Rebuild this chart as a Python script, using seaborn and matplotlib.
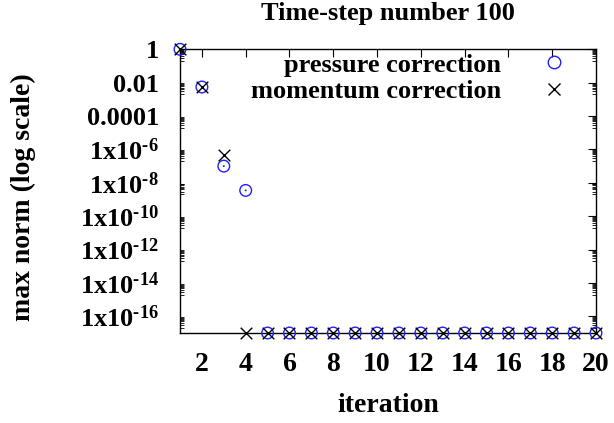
import numpy as np
import pandas as pd
import matplotlib
matplotlib.use("Agg")
import matplotlib.pyplot as plt
import seaborn as sns
from matplotlib.ticker import FixedLocator, FuncFormatter, NullFormatter
from matplotlib.lines import Line2D

# ---- data ----
iterations = list(range(1, 21))
pressure = [1.0, 5.5e-3, 1.0e-7, 3.5e-9] + [1e-17] * 16
momentum = [1.0, 5.5e-3, 4.5e-7, 1e-17] + [1e-17] * 16
title = "Time-step number 100"
xlabel = "iteration"
ylabel = "max norm (log scale)"
labels = ["pressure correction", "momentum correction"]
xticks = list(range(2, 21, 2))
ytick_exps = list(range(0, -17, -2))

sns.set_theme(style="white")
plt.rcParams['font.family'] = ['Liberation Serif', 'DejaVu Serif']
plt.rcParams['font.weight'] = 'bold'
plt.rcParams['text.color'] = 'black'
plt.rcParams['axes.labelcolor'] = 'black'
plt.rcParams['xtick.color'] = 'black'
plt.rcParams['ytick.color'] = 'black'
plt.rcParams['mathtext.fontset'] = 'custom'
plt.rcParams['mathtext.rm'] = 'Liberation Serif:bold'
plt.rcParams['mathtext.bf'] = 'Liberation Serif:bold'
plt.rcParams['mathtext.it'] = 'Liberation Serif:bold'
plt.rcParams['mathtext.default'] = 'rm'

df = pd.DataFrame({"iteration": iterations, "pressure": pressure, "momentum": momentum})

fig = plt.figure(figsize=(6.14, 4.23), dpi=100)
ax = fig.add_axes([180/614, 1-333/423, (596-180)/614, (333-49.3)/423])

blue = "#1f1fff"
sns.scatterplot(data=df, x="iteration", y="pressure", ax=ax, marker="o", s=70,
                facecolors="none", edgecolor=blue, linewidth=1.0, clip_on=False, zorder=3)
sns.scatterplot(data=df, x="iteration", y="pressure", ax=ax, marker="o", s=2,
                color=blue, edgecolor="none", clip_on=False, zorder=3)
sns.scatterplot(data=df, x="iteration", y="momentum", ax=ax, marker="x", s=70,
                color="black", linewidth=1.0, clip_on=False, zorder=4)

ax.set_yscale("log")
ax.set_xlim(1, 20)
ax.set_ylim(1e-17, 1)

ax.xaxis.set_major_locator(FixedLocator(xticks))
ax.set_xticklabels([str(t) for t in xticks])
ax.yaxis.set_major_locator(FixedLocator([10.0**e for e in ytick_exps]))
minors = []
for e in ytick_exps:
    for m in range(2, 10):
        minors.append(m * 10.0**(e - 1))
ax.yaxis.set_minor_locator(FixedLocator(minors))
ax.yaxis.set_minor_formatter(NullFormatter())

def yfmt(v, pos):
    e = int(round(np.log10(v)))
    if e == 0:
        return "1"
    if e == -2:
        return "0.01"
    if e == -4:
        return "0.0001"
    return r"1x10$^{\text{-%d}}$" % abs(e)
ax.yaxis.set_major_formatter(FuncFormatter(yfmt))

for sp in ax.spines.values():
    sp.set_visible(True)
    sp.set_color("black")
    sp.set_linewidth(1.0)

ax.tick_params(axis="both", which="major", direction="in", length=6, width=0.8,
               top=True, right=True, colors="black")
ax.tick_params(axis="y", which="major", labelsize=19, pad=15)
ax.tick_params(axis="y", which="minor", direction="in", length=3, width=0.6,
               left=True, right=True)
ax.tick_params(axis="x", which="major", labelsize=20, pad=14)
for lab in ax.get_xticklabels() + ax.get_yticklabels():
    lab.set_fontweight("bold")

ax.set_title(title, fontsize=19, fontweight="bold", pad=21, color="black")
ax.set_xlabel(xlabel, fontsize=20, fontweight="bold", labelpad=11)
ax.set_ylabel(ylabel, fontsize=20, fontweight="bold")
ax.yaxis.set_label_coords(-0.345, 0.48)

handles = [
    Line2D([], [], marker="o", linestyle="none", markerfacecolor="none",
           markeredgecolor=blue, markersize=9, markeredgewidth=1.0),
    Line2D([], [], marker="x", linestyle="none", color="black",
           markersize=9, markeredgewidth=1.0),
]
ax.legend(handles, labels, loc="upper right", bbox_to_anchor=(1.02, 1.07),
          frameon=False, markerfirst=False, handletextpad=1.0,
          labelspacing=0.12, prop={"weight": "bold", "size": 19})

fig.savefig("out.png", dpi=100)
